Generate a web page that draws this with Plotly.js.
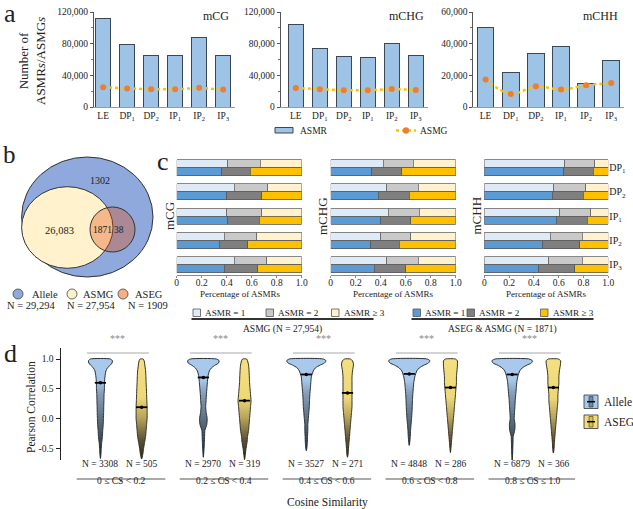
<!DOCTYPE html>
<html><head><meta charset="utf-8">
<script src="https://cdn.plot.ly/plotly-3.0.1.min.js"></script>
<style>html,body{margin:0;padding:0;background:#fff}#chart{width:633px;height:509px}</style>
</head><body><div id="chart"></div>
<script>
// ---------------- DATA ----------------
// panel a
const stages = ['LE','DP<sub>1</sub>','DP<sub>2</sub>','IP<sub>1</sub>','IP<sub>2</sub>','IP<sub>3</sub>'];
const asmrCG  = [112000, 79500, 65000, 64500, 88000, 65500];
const asmgCG  = [25000, 23500, 22300, 22300, 24200, 22000];
const asmrCHG = [104000, 73500, 64000, 63000, 80000, 65000];
const asmgCHG = [24000, 22500, 21200, 21000, 22800, 21500];
const asmrCHH = [50200, 22000, 33800, 38000, 14800, 29200];
const asmgCHH = [17300, 8200, 13100, 11000, 13700, 15200];
// panel b
const vennLabels = ['1302', '26,083', '1871', '38'];
const setNames = ['Allele', 'ASMG', 'ASEG'];
const setSizes = ['N = 29,294', 'N = 27,954', 'N = 1909'];
// panel c  (fractions of ASMR = 1, = 2, >= 3)
const cStages = ['DP<sub>1</sub>','DP<sub>2</sub>','IP<sub>1</sub>','IP<sub>2</sub>','IP<sub>3</sub>'];
const cgAsmg1 = [0.41,0.46,0.40,0.38,0.46];
const cgAsmg2 = [0.26,0.27,0.28,0.26,0.26];
const cgAsmg3 = [0.33,0.27,0.32,0.36,0.28];
const cgAseg1 = [0.36,0.40,0.41,0.34,0.38];
const cgAseg2 = [0.23,0.28,0.25,0.23,0.27];
const cgAseg3 = [0.41,0.32,0.34,0.43,0.35];
const chgAsmg1 = [0.42,0.45,0.46,0.40,0.45];
const chgAsmg2 = [0.24,0.25,0.25,0.24,0.25];
const chgAsmg3 = [0.34,0.30,0.29,0.36,0.30];
const chgAseg1 = [0.33,0.38,0.40,0.32,0.35];
const chgAseg2 = [0.24,0.25,0.24,0.23,0.25];
const chgAseg3 = [0.43,0.37,0.36,0.45,0.40];
const chhAsmg1 = [0.65,0.56,0.61,0.53,0.52];
const chhAsmg2 = [0.24,0.26,0.25,0.26,0.27];
const chhAsmg3 = [0.11,0.18,0.14,0.21,0.21];
const chhAseg1 = [0.64,0.55,0.58,0.47,0.44];
const chhAseg2 = [0.24,0.25,0.25,0.30,0.29];
const chhAseg3 = [0.12,0.20,0.17,0.23,0.27];
// panel d
const csBins = ['0 ≤ CS &lt; 0.2','0.2 ≤ CS &lt; 0.4','0.4 ≤ CS &lt; 0.6','0.6 ≤ CS &lt; 0.8','0.8 ≤ CS ≤ 1.0'];
const nAllele = [3308, 2970, 3527, 4848, 6879];
const nAseg = [505, 319, 271, 286, 366];
const violinLevels = [1.0,0.97,0.93,0.9,0.85,0.8,0.7,0.6,0.5,0.4,0.3,0.2,0.1,0.0,-0.1,-0.2,-0.3,-0.4,-0.5,-0.6,-0.7];
const alleleDens1 = [10,12,11.5,10,7,5.5,4.5,4,4,3.6,3.5,3.3,3.2,3,2.8,2.3,2,1.3,0.8,0.5,0];
const alleleDens2 = [13,15.8,15,12,8,6,4.5,4,3.5,3,2.7,2.3,2.8,3.8,3.4,1.5,1.2,1,0.7,0.3,0];
const alleleDens3 = [17,19.7,18,14,9,7,5,4.5,4,3.5,3.2,3,2.5,2,1.5,1.5,1.2,1,0.5,0,0];
const alleleDens4 = [18,20.7,19,15,10,7.5,5.5,4.5,4,3.5,3.2,3,2.7,2.3,1.8,1.3,1,0.5,0,0,0];
const alleleDens5 = [17,20.3,19,15,10,7.5,5.5,4.5,4,3.5,3,2.7,2.3,2,2.8,2.5,1,0.8,0.6,0.4,0];
const asegDens1 = [1.5,2.5,3,3.2,3.6,4,4.3,4.5,4.8,5,5.2,5.5,5.5,5.5,5,4.5,4,3,2,1.2,0];
const asegDens2 = [2,3,3.6,4,4.3,4.5,4.8,5,5.5,6,6.5,6,5.5,5,4.5,4,3,2.5,1.5,0.8,0];
const asegDens3 = [3,5,5.8,6,5.5,5,4.5,4.5,4.5,4.5,4.5,4.5,4,3.5,3,2.5,2,1.5,1,0.6,0];
const asegDens4 = [5,7,7,7,6.8,6.5,6,6,5.5,5,4.5,4,3.5,3,2.5,2,1.5,1,0.5,0,0];
const asegDens5 = [5,7.3,7.2,7,6.5,6,5.5,5.5,5,4.5,4.5,4,3.5,3,2.5,2,1.5,1,0.7,0,0];
const alleleMin = [-0.67,-0.65,-0.54,-0.45,-0.70];
const asegMin   = [-0.68,-0.69,-0.65,-0.57,-0.58];
const alleleQ1  = [0.38,0.53,0.60,0.62,0.60];
const alleleQ3  = [0.95,0.93,0.93,0.93,0.93];
const alleleMed = [0.60,0.69,0.74,0.75,0.74];
const asegQ1  = [-0.15,-0.04,0.06,0.20,0.20];
const asegQ3  = [0.55,0.64,0.80,0.87,0.87];
const asegMed = [0.19,0.30,0.43,0.52,0.52];

// ---------------- HELPERS ----------------
const W = 633, H = 509;
const X = p => p / W, Y = p => 1 - p / H;
const SERIF = '"Liberation Serif", "Times New Roman", Times, serif';
const TXT = '#222';
const F = (size, color) => ({family:SERIF, size, color:color || TXT});
const traces = [], shapes = [], annotations = [];
function ann(x, y, text, o = {}) {
  annotations.push(Object.assign({xref:'paper', yref:'paper', x:X(x), y:Y(y), text, showarrow:false,
    xanchor:'center', yanchor:'middle', font:F(9.5)}, o));
}
function rect(x0, y0, x1, y1, fill, line, w = 0.8) {
  shapes.push({type:'rect', xref:'paper', yref:'paper', x0:X(x0), x1:X(x1), y0:Y(y0), y1:Y(y1),
    fillcolor:fill, line:{color:line, width:w}});
}
function hline(x0, x1, y, color, w, dash) {
  shapes.push({type:'line', xref:'paper', yref:'paper', x0:X(x0), x1:X(x1), y0:Y(y), y1:Y(y),
    line:{color, width:w, dash:dash || 'solid'}});
}
function circ(cx, cy, rx, ry, fill, line, w = 1, layer) {
  shapes.push({type:'circle', xref:'paper', yref:'paper', x0:X(cx-rx), x1:X(cx+rx), y0:Y(cy+ry), y1:Y(cy-ry),
    fillcolor:fill, line:{color:line, width:w}, layer:layer || 'below'});
}

// ---------------- PANEL A ----------------
const idx = stages.map((_, i) => i);
[
  {asmr:asmrCG,  asmg:asmgCG,  xa:'x',  ya:'y',  bw:0.62, shape:'linear'},
  {asmr:asmrCHG, asmg:asmgCHG, xa:'x2', ya:'y2', bw:0.62, shape:'linear'},
  {asmr:asmrCHH, asmg:asmgCHH, xa:'x3', ya:'y3', bw:0.66, shape:'spline'}
].forEach(s => {
  traces.push({type:'bar', x:idx, y:s.asmr, xaxis:s.xa, yaxis:s.ya, width:s.bw,
    marker:{color:'#9DC3E6', line:{color:'#3b4753', width:1}}, hoverinfo:'skip'});
  traces.push({type:'scatter', mode:'lines+markers', x:idx, y:s.asmg, xaxis:s.xa, yaxis:s.ya,
    line:{color:'#FFC000', width:2.5, dash:'dot', shape:s.shape}, marker:{color:'#ED7D31', size:6}, hoverinfo:'skip'});
});
function aX(dom, range) {
  return {domain:dom, range, tickvals:idx, ticktext:stages, showline:true, linecolor:'#9a9a9a', linewidth:1,
    ticks:'', showgrid:false, zeroline:false, tickfont:F(9.5)};
}
function aY(anchor, max) {
  const step = max / 3;
  return {domain:[Y(107), Y(12)], range:[0, max], anchor, tickvals:[0, step, 2*step, 3*step], tickformat:',d',
    showline:true, linecolor:'#555', linewidth:1, ticks:'outside', ticklen:3, tickcolor:'#555',
    minor:{dtick:step/2, ticks:'outside', ticklen:2, tickcolor:'#777'},
    showgrid:false, zeroline:false, tickfont:F(9.5)};
}
ann(10, 13, 'a', {font:F(26)});
ann(32, 61, 'Number of<br>ASMR<i>s</i>/ASMG<i>s</i>', {textangle:-90, font:F(13)});
ann(216, 16, 'mCG', {font:F(12)});
ann(406, 16, 'mCHG', {font:F(12)});
ann(600, 16, 'mCHH', {font:F(12)});
rect(275, 127.5, 293, 133, '#9DC3E6', '#3b4753', 1);
ann(298, 130.5, 'ASMR', {xanchor:'left'});
hline(396, 416, 130.5, '#FFC000', 2.5, 'dot');
circ(406, 130.5, 3, 3, '#ED7D31', '#ED7D31', 0.5, 'above');
ann(418, 130.5, 'ASMG', {xanchor:'left'});

// ---------------- PANEL B ----------------
ann(9, 154, 'b', {font:F(25)});
circ(87.3, 217, 65.7, 60, '#8FA9DC', '#333', 1);
circ(67.3, 227.5, 45.7, 40.8, '#FFF2CC', '#333', 1);
circ(112.5, 229.5, 22.5, 22.5, 'rgba(224,76,15,0.35)', '#333', 1);
ann(100, 180.5, vennLabels[0], {font:F(10)});
ann(60, 230, vennLabels[1], {font:F(10.5)});
ann(102, 230, vennLabels[2], {font:F(9.5)});
ann(119.5, 230, vennLabels[3], {font:F(9.5)});
const bLegX = [18, 72, 123], bTxtX = [45, 98, 149], bNX = [31, 91, 148];
const bCols = ['#8FA9DC', '#FFF2CC', '#F4B183'];
setNames.forEach((n, i) => {
  circ(bLegX[i], 294, 5, 5, bCols[i], '#444', 0.8, 'above');
  ann(bTxtX[i], 294, n, {font:F(10.5)});
  ann(bNX[i], 305, setSizes[i], {font:F(10.5)});
});

// ---------------- PANEL C ----------------
const lightCols = ['#DEEBF7', '#C9C9C9', '#FFF2CC'], darkCols = ['#5B9BD5', '#7F7F7F', '#FFC000'];
const yLight = cStages.map((_, k) => k - 0.165), yDark = cStages.map((_, k) => k + 0.165);
[
  {xa:'x4', ya:'y4', light:[cgAsmg1, cgAsmg2, cgAsmg3], dark:[cgAseg1, cgAseg2, cgAseg3]},
  {xa:'x5', ya:'y5', light:[chgAsmg1, chgAsmg2, chgAsmg3], dark:[chgAseg1, chgAseg2, chgAseg3]},
  {xa:'x6', ya:'y6', light:[chhAsmg1, chhAsmg2, chhAsmg3], dark:[chhAseg1, chhAseg2, chhAseg3]}
].forEach(s => {
  s.light.forEach((arr, j) => traces.push({type:'bar', orientation:'h', x:arr, y:yLight, xaxis:s.xa, yaxis:s.ya,
    width:0.33, marker:{color:lightCols[j], line:{color:'#6a6a6a', width:0.8}}, hoverinfo:'skip'}));
  s.dark.forEach((arr, j) => traces.push({type:'bar', orientation:'h', x:arr, y:yDark, xaxis:s.xa, yaxis:s.ya,
    width:0.33, marker:{color:darkCols[j], line:{color:'#5a5a5a', width:0.8}}, hoverinfo:'skip'}));
});
function cX(dom, anchor) {
  return {domain:dom, anchor, range:[0, 1], tickvals:[0,0.2,0.4,0.6,0.8,1], ticktext:['0','0.2','0.4','0.6','0.8','1.0'],
    showline:true, linecolor:'#8a8a8a', ticks:'outside', ticklen:2, tickcolor:'#8a8a8a', showgrid:false, zeroline:false,
    ticklabelstandoff:-3, tickfont:F(9.5)};
}
function cY(anchor, right) {
  return {domain:[Y(275), Y(155)], anchor, range:[4.42, -0.52], showline:false, ticks:'', showgrid:false, zeroline:false,
    showticklabels:!!right, side:right ? 'right' : 'left', tickvals:[0,1,2,3,4], ticktext:cStages, tickfont:F(10)};
}
ann(163, 161, 'c', {font:F(26)});
ann(170, 216, 'mCG', {textangle:-90, font:F(13)});
ann(323, 216, 'mCHG', {textangle:-90, font:F(13)});
ann(476.5, 216, 'mCHH', {textangle:-90, font:F(13)});
ann(240, 293.5, 'Percentage of ASMRs', {font:F(9)});
ann(393, 293.5, 'Percentage of ASMRs', {font:F(9)});
ann(546, 293.5, 'Percentage of ASMRs', {font:F(9)});
const legTexts = ['ASMR = 1', 'ASMR = 2', 'ASMR ≥ 3'];
const leg1X = [193, 266, 331.5], leg2X = [413, 467, 540.5];
legTexts.forEach((t, i) => {
  rect(leg1X[i], 309, leg1X[i] + 7.5, 316.5, lightCols[i], '#555', 0.8);
  ann(leg1X[i] + 10, 312.8, t, {xanchor:'left', font:F(9.2)});
  rect(leg2X[i], 309, leg2X[i] + 7.5, 316.5, darkCols[i], '#555', 0.8);
  ann(leg2X[i] + 10, 312.8, t, {xanchor:'left', font:F(9.2)});
});
hline(191.5, 373.5, 319, '#333', 1.8);
hline(411.5, 593.5, 319, '#333', 1.8);
ann(282, 329, 'ASMG (N = 27,954)', {font:F(9.5)});
ann(502, 329, 'ASEG &amp; ASMG (N = 1871)', {font:F(9.5)});

// ---------------- PANEL D ----------------
const PXU = 102.9; // px per x unit of panel d axis
const alleleDens = [alleleDens1, alleleDens2, alleleDens3, alleleDens4, alleleDens5];
const asegDens = [asegDens1, asegDens2, asegDens3, asegDens4, asegDens5];
const gIdx = csBins.map((_, g) => g);
const xAllele = gIdx.map(g => g - 0.2), xAseg = gIdx.map(g => g + 0.2);
function violinPath(x0, dens, tail) {
  const pts = [];
  violinLevels.forEach((lv, i) => { if (lv > tail) pts.push([lv, dens[i] / PXU]); });
  const xs = [], ys = [];
  pts.forEach(p => { xs.push(x0 + p[1]); ys.push(p[0]); });
  xs.push(x0); ys.push(tail);
  for (let i = pts.length - 1; i >= 0; i--) { xs.push(x0 - pts[i][1]); ys.push(pts[i][0]); }
  xs.push(xs[0]); ys.push(ys[0]);
  return {xs, ys};
}
const alleleScale = [[0,'#1d2228'],[0.2,'#3d4955'],[0.42,'#5f7385'],[0.66,'#869fba'],[0.8,'#a9c9ec'],[1,'#a9c9ec']];
const asegScale = [[0,'#28241a'],[0.2,'#5c5236'],[0.42,'#b8a45c'],[0.62,'#eed878'],[1,'#f4df82']];
gIdx.forEach(g => {
  const a = violinPath(xAllele[g], alleleDens[g], alleleMin[g]);
  traces.push({type:'scatter', mode:'lines', x:a.xs, y:a.ys, xaxis:'x7', yaxis:'y7', fill:'toself',
    fillcolor:'#a9c9ec', fillgradient:{type:'vertical', start:-0.7, stop:1.0, colorscale:alleleScale},
    line:{color:'#263038', width:1, shape:'spline', smoothing:0.6}, hoverinfo:'skip'});
  const e = violinPath(xAseg[g], asegDens[g], asegMin[g]);
  traces.push({type:'scatter', mode:'lines', x:e.xs, y:e.ys, xaxis:'x7', yaxis:'y7', fill:'toself',
    fillcolor:'#f2dc7a', fillgradient:{type:'vertical', start:-0.7, stop:1.0, colorscale:asegScale},
    line:{color:'#33301f', width:1, shape:'spline', smoothing:0.6}, hoverinfo:'skip'});
});
traces.push({type:'box', orientation:'v', x:xAllele, q1:alleleQ1, median:alleleMed, q3:alleleQ3,
  lowerfence:alleleMin, upperfence:gIdx.map(() => 1.0), xaxis:'x7', yaxis:'y7', width:0.045,
  fillcolor:'#6e88a2', line:{color:'#2a3440', width:0.8}, whiskerwidth:0, boxpoints:false, hoverinfo:'skip'});
traces.push({type:'box', orientation:'v', x:xAseg, q1:asegQ1, median:asegMed, q3:asegQ3,
  lowerfence:asegMin, upperfence:gIdx.map(() => 1.0), xaxis:'x7', yaxis:'y7', width:0.045,
  fillcolor:'#dcc15a', line:{color:'#3b3520', width:0.8}, whiskerwidth:0, boxpoints:false, hoverinfo:'skip'});
traces.push({type:'scatter', mode:'markers', x:xAllele.concat(xAseg), y:alleleMed.concat(asegMed), xaxis:'x7', yaxis:'y7',
  marker:{symbol:'line-ew', size:8, line:{color:'#000', width:1.8}}, hoverinfo:'skip'});
traces.push({type:'scatter', mode:'markers', x:xAllele.concat(xAseg), y:alleleMed.concat(asegMed), xaxis:'x7', yaxis:'y7',
  marker:{symbol:'circle', size:3.5, color:'#000'}, hoverinfo:'skip'});
gIdx.forEach(g => {
  shapes.push({type:'line', xref:'x7', yref:'paper', x0:g - 0.33, x1:g + 0.27, y0:Y(353), y1:Y(353), line:{color:'#a8a8a8', width:1}});
  annotations.push({xref:'x7', yref:'paper', x:g - 0.03, y:Y(346), text:'***', showarrow:false, font:F(10, '#888')});
  annotations.push({xref:'x7', yref:'paper', x:xAllele[g], y:Y(471), text:'N = ' + nAllele[g], showarrow:false, font:F(9.5)});
  annotations.push({xref:'x7', yref:'paper', x:xAseg[g], y:Y(471), text:'N = ' + nAseg[g], showarrow:false, font:F(9.5)});
  shapes.push({type:'line', xref:'x7', yref:'paper', x0:g - 0.43, x1:g + 0.43, y0:Y(479), y1:Y(479), line:{color:'#555', width:1.2}});
  shapes.push({type:'line', xref:'x7', yref:'paper', x0:g, x1:g, y0:Y(479), y1:Y(482), line:{color:'#555', width:1}});
  annotations.push({xref:'x7', yref:'paper', x:g, y:Y(488), text:csBins[g], showarrow:false, font:F(9.5)});
});
ann(10, 353, 'd', {font:F(26)});
ann(31, 407, 'Pearson Correlation', {textangle:-90, font:F(11.5)});
ann(327, 502, 'Cosine Similarity', {font:F(11.5)});
rect(584, 395, 598, 408.5, '#a9c9ec', '#333', 0.8);
rect(589, 396.5, 593, 407, '#6e88a2', '#2a3440', 0.6);
hline(587, 595, 401.7, '#000', 1.5);
rect(584, 415, 598, 428.5, '#f2dc7a', '#333', 0.8);
rect(589, 416.5, 593, 427, '#dcc15a', '#3b3520', 0.6);
hline(587, 595, 421.7, '#000', 1.5);
ann(602, 401.7, 'Allele', {xanchor:'left', font:F(11.5)});
ann(602, 421.7, 'ASEG', {xanchor:'left', font:F(11.5)});

// ---------------- LAYOUT ----------------
const layout = {
  width:W, height:H, margin:{l:0, r:0, t:0, b:0}, paper_bgcolor:'#fff', plot_bgcolor:'rgba(0,0,0,0)',
  showlegend:false, barmode:'stack', boxmode:'overlay', font:F(10),
  xaxis:Object.assign(aX([X(94), X(235.2)], [-0.38, 5.5]), {anchor:'y'}),
  yaxis:aY('x', 120000),
  xaxis2:Object.assign(aX([X(280.7), X(427.8)], [-0.63, 5.5]), {anchor:'y2'}),
  yaxis2:aY('x2', 120000),
  xaxis3:Object.assign(aX([X(473.3), X(623.8)], [-0.49, 5.5]), {anchor:'y3'}),
  yaxis3:aY('x3', 60000),
  xaxis4:cX([X(176.7), X(301.7)], 'y4'), yaxis4:cY('x4', false),
  xaxis5:cX([X(330.7), X(455.7)], 'y5'), yaxis5:cY('x5', false),
  xaxis6:cX([X(484.3), X(608.3)], 'y6'), yaxis6:cY('x6', true),
  xaxis7:{domain:[X(61), X(575)], range:[-0.583, 4.41], anchor:'y7', visible:false},
  yaxis7:{domain:[Y(460), Y(348)], range:[-0.697, 1.185], anchor:'x7', showline:true, linewidth:1.5, linecolor:'#222',
    ticks:'outside', ticklen:4, tickcolor:'#222', tickvals:[-0.5, 0, 0.5, 1], ticktext:['-0.5','0.0','0.5','1.0'],
    showgrid:false, zeroline:false, tickfont:F(9.5)},
  shapes, annotations
};
Plotly.newPlot('chart', traces, layout, {staticPlot:true, displayModeBar:false});
</script>
</body></html>
